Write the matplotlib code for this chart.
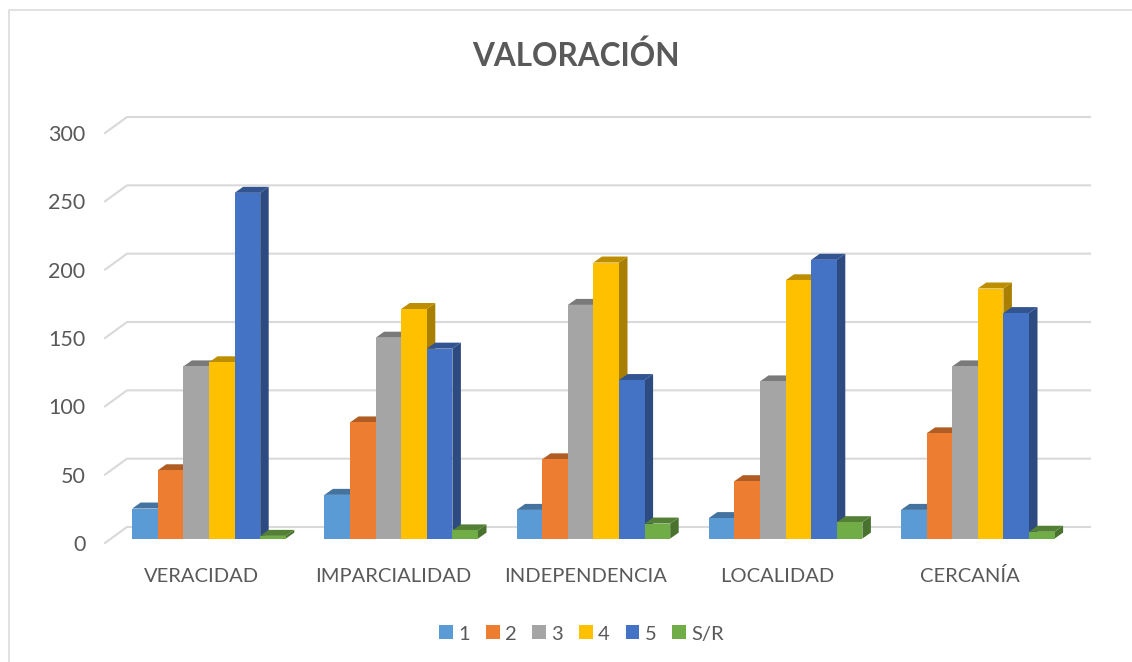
import matplotlib
matplotlib.use("Agg")
import matplotlib.pyplot as plt
from matplotlib.lines import Line2D
from matplotlib.patches import Patch, Polygon
from matplotlib.transforms import Affine2D
from matplotlib.colors import to_rgb

plt.rcParams['font.family'] = ['Lato', 'DejaVu Sans']

categories = ["VERACIDAD", "IMPARCIALIDAD", "INDEPENDENCIA", "LOCALIDAD", "CERCANÍA"]
series_names = ["1", "2", "3", "4", "5", "S/R"]
s1 = [22, 32, 21, 15, 21]
s2 = [50, 85, 58, 42, 77]
s3 = [126, 147, 171, 115, 126]
s4 = [129, 168, 202, 189, 183]
s5 = [253, 139, 116, 204, 165]
s6 = [2, 6, 11, 12, 5]
series = [s1, s2, s3, s4, s5, s6]
colors = ["#5B9BD5", "#ED7D31", "#A5A5A5", "#FFC000", "#4472C4", "#70AD47"]
yticks = [0, 50, 100, 150, 200, 250, 300]
TXT = "#595959"
GRID = "#D9D9D9"

W, H = 1132, 662
fig = plt.figure(figsize=(W / 100, H / 100), dpi=100, facecolor="white")
L, R, T, B = 105, 1066, 133, 543
ax = fig.add_axes([L / W, 1 - B / H, (R - L) / W, (B - T) / H])
ax.set_xlim(-0.5, 4.5)
ax.set_ylim(0, 300)
ax.set_facecolor("none")
for s in ax.spines.values():
    s.set_visible(False)

px_x = (R - L) / 5
px_y = (B - T) / 300

# chart frame
fig.add_artist(Line2D([9 / W, 9 / W, 1], [0, 1 - 10 / H, 1 - 10 / H], color=GRID, lw=1.1))

# gridlines on the wall
wdx, wdy = 22 / px_x, 16 / px_y
wall_end = 4.5 + 24 / px_x
for v in yticks:
    ax.plot([-0.5, -0.5 + wdx, wall_end], [v, v + wdy, v + wdy], color=GRID, lw=1.5,
            clip_on=False, zorder=1, solid_joinstyle="miter")

# bars
bw = 25.6 / px_x
ddx, ddy = 8.5 / px_x, 6 / px_y
offset = Affine2D().translate(7.9, 4.4)
trans = ax.transData + offset
z = 3
for g in range(len(categories)):
    for i, vals in enumerate(series):
        v = vals[g]
        x0 = g + (i - 3) * bw
        c = to_rgb(colors[i])
        top = tuple(k * 0.74 for k in c)
        side = tuple(k * 0.66 for k in c)
        ax.add_patch(Polygon([(x0 + bw, 0), (x0 + bw + ddx, ddy), (x0 + bw + ddx, v + ddy), (x0 + bw, v)],
                             closed=True, fc=side, ec="none", transform=trans, clip_on=False, zorder=z))
        ax.add_patch(Polygon([(x0, v), (x0 + bw, v), (x0 + bw + ddx, v + ddy), (x0 + ddx, v + ddy)],
                             closed=True, fc=top, ec="none", transform=trans, clip_on=False, zorder=z))
        ax.bar(x0, v, width=bw, align="edge", color=colors[i], transform=trans, clip_on=False, zorder=z)
        z += 1

ax.set_xticks(range(len(categories)))
ax.set_xticklabels(categories, va="baseline")
ax.set_yticks(yticks)
ax.tick_params(axis="both", length=0, colors=TXT)
ax.tick_params(axis="x", labelsize=14.5, pad=28.2)
ax.tick_params(axis="y", labelsize=15.5, pad=14)

fig.text(576 / W, 1 - 55.5 / H, "VALORACIÓN", ha="center", va="center", fontsize=22.7,
         fontweight="bold", color=TXT)

handles = [Patch(fc=c, ec="none") for c in colors]
leg = fig.legend(handles, series_names, ncol=6, loc="center", bbox_to_anchor=(581.5 / W, 1 - 634 / H),
                 frameon=False, fontsize=14.5, handlelength=0.69, handleheight=0.69,
                 handletextpad=0.25, columnspacing=0.79, labelcolor=TXT, borderpad=0, borderaxespad=0)

fig.savefig("out.png", dpi=100, facecolor="white")
